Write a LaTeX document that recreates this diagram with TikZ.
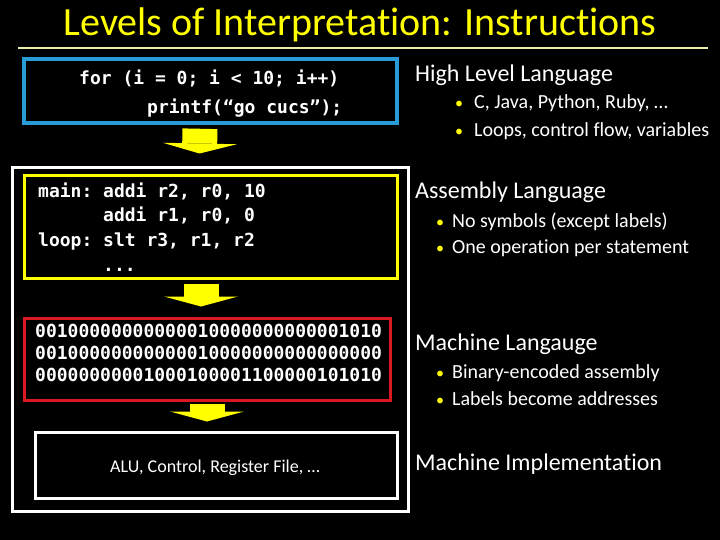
\documentclass[tikz,border=0pt]{standalone}
\usepackage{fontspec}
\setmainfont{Carlito}[Ligatures=NoCommon]
\setmonofont{DejaVu Sans Mono}
\usetikzlibrary{arrows.meta, positioning}
\usepackage{xcolor}

\definecolor{slideyellow}{RGB}{255,255,0}
\definecolor{hllblue}{RGB}{41,156,216}
\definecolor{mlred}{RGB}{218,24,30}
\definecolor{rulecream}{RGB}{235,235,170}

\newcommand{\bulitem}[2]{\makebox[#1][l]{\textcolor{slideyellow}{\fontsize{16}{16}\selectfont•}}#2}

\begin{document}
\begin{tikzpicture}[
    x=1pt, y=-1pt,
    box/.style={rectangle, draw, inner sep=0pt},
    code/.style={anchor=base west, inner sep=0pt, text=white, font=\ttfamily\bfseries\fontsize{18}{22}\selectfont},
    heading/.style={anchor=base west, inner sep=0pt, text=white, font=\fontsize{24}{29}\selectfont},
    point/.style={anchor=base west, inner sep=0pt, text=white, font=\fontsize{20}{24}\selectfont},
    blockarrow/.style={draw=slideyellow, line width=35pt, -{Triangle[width=74pt, length=10pt, line width=0pt, fill=slideyellow]}},
]

\fill[black] (0,0) rectangle (720,540);
\useasboundingbox (0,0) rectangle (720,540);

\node[anchor=base, inner sep=0pt, text=slideyellow, font=\fontsize{40}{48}\selectfont] (title) at (360,36) {Levels of Interpretation: Instructions};
\draw[rulecream, line width=1.2pt] (18,48) -- (708,48);

% the four levels
\node[box, draw=hllblue, line width=3.5pt, minimum width=373pt, minimum height=64pt] (hllbox) at (210.5,91) {};
\node[box, draw=white, line width=3pt, minimum width=396pt, minimum height=343pt] (isabox) at (210,339.5) {};
\node[box, draw=slideyellow, line width=3pt, minimum width=373pt, minimum height=102pt] (asmbox) at (210.5,227) {};
\node[box, draw=mlred, line width=3pt, minimum width=366pt, minimum height=82pt] (mlbox) at (207,359) {};
\node[box, draw=white, line width=3pt, minimum width=362pt, minimum height=66pt] (implbox) at (216,465) {};

\draw[blockarrow] ([xshift=-10.5pt, yshift=-4pt]hllbox.south) -- ([xshift=-10.5pt, yshift=13pt]isabox.north);
\draw[blockarrow] ([xshift=-9.5pt, yshift=-4pt]asmbox.south) -- ([xshift=-6pt, yshift=10pt]mlbox.north);
\draw[blockarrow] ([yshift=-2pt]mlbox.south) -- ([xshift=-9pt, yshift=9pt]implbox.north);

% code in the boxes
\node[code] (hll1) at (79,85) {for (i = 0; i < 10; i++)};
\node[code] (hll2) at (147,114) {printf(“go cucs”);};

\node[code] (asm1) at (38,197) {main: addi r2, r0, 10};
\node[code] (asm2) at (103,222) {addi r1, r0, 0};
\node[code] (asm3) at (38,247) {loop: slt r3, r1, r2};
\node[code] (asm4) at (103,271) {...};

\node[code] (ml1) at (35,337) {00100000000000010000000000001010};
\node[code] (ml2) at (35,359) {00100000000000010000000000000000};
\node[code] (ml3) at (35,381) {00000000001000100001100000101010};

\node[anchor=base, inner sep=0pt, text=white, font=\fontsize{18}{22}\selectfont] (impltext) at (215,472) {ALU, Control, Register File, …};

% descriptions on the right
\node[heading] (hllhead) at (415,81.5) {High Level Language};
\node[point] (hllpt1) at (455,109) {\bulitem{19pt}{C, Java, Python, Ruby, …}};
\node[point] (hllpt2) at (455,137) {\bulitem{19pt}{Loops, control flow, variables}};

\node[heading] (asmhead) at (415,198.5) {Assembly Language};
\node[point] (asmpt1) at (436,228) {\bulitem{16pt}{No symbols (except labels)}};
\node[point] (asmpt2) at (436,254) {\bulitem{16pt}{One operation per statement}};

\node[heading] (mlhead) at (415,350.5) {Machine Langauge};
\node[point] (mlpt1) at (436,378.5) {\bulitem{16pt}{Binary-encoded assembly}};
\node[point] (mlpt2) at (436,405) {\bulitem{16pt}{Labels become addresses}};

\node[heading] (implhead) at (415,470.5) {Machine Implementation};

\end{tikzpicture}
\end{document}
